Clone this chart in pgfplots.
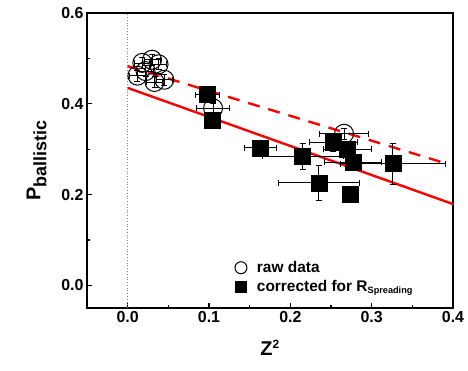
\documentclass[border=0pt]{standalone}
\usepackage{pgfplots}
\pgfplotsset{compat=1.18}
\usepackage{fontspec}
\setmainfont{Liberation Sans}
\begin{document}
\begin{tikzpicture}[x=1bp,y=1bp]
\begin{axis}[
  at={(0,0)}, anchor=south west,
  scale only axis, width=366bp, height=295bp,
  xmin=-0.05, xmax=0.4, ymin=-0.05, ymax=0.6,
  xtick={0,0.1,0.2,0.3,0.4}, ytick={0,0.2,0.4,0.6},
  xticklabels={0.0,0.1,0.2,0.3,0.4},
  yticklabels={0.0,0.2,0.4,0.6},
  minor xtick={-0.05,0.05,0.15,0.25,0.35},
  minor ytick={-0.1,0.1,0.3,0.5},
  tick label style={font=\fontsize{16}{18}\selectfont\bfseries},
  tick align=inside, xtick pos=bottom, ytick pos=left,
  major tick length=5bp, minor tick length=3bp,
  every tick/.style={black, line width=1.2pt},
  axis line style={line width=1.8pt},
  xlabel={\fontsize{20}{22}\selectfont\bfseries Z\textsuperscript{\fontsize{12}{13}\selectfont 2}},
  ylabel={\fontsize{20}{22}\selectfont\bfseries P\textsubscript{\fontsize{18}{19}\selectfont ballistic}},
  xlabel style={yshift=-10bp},
  ylabel style={yshift=8bp},
  legend style={draw=none, fill=none, at={(axis cs:0.128,0.062)}, anchor=north west,
    font=\fontsize{15.5}{18}\selectfont\bfseries, row sep=2bp, column sep=8bp},
  legend cell align=left,
  clip=true,
]
% reference line at Z^2 = 0
\addplot[gray, dotted, line width=0.8pt, forget plot] coordinates {(0,-0.05) (0,0.6)};

% linear fits
\addplot[red, line width=2.4pt, forget plot] coordinates {(0,0.435) (0.4,0.179)};
\addplot[red, line width=2.4pt, dash pattern=on 12bp off 9bp, forget plot] coordinates {(0,0.483) (0.385,0.272)};

% raw data
\addplot[only marks, mark=o, mark size=9.5bp, mark options={fill=white, line width=1pt},
  legend image post style={mark size=6bp},
  error bars/.cd, x dir=both, x explicit, y dir=both, y explicit,
  error bar style={line width=0.7pt}, error mark options={rotate=90, mark size=3bp, line width=0.7pt}]
  coordinates {
    (0.012,0.462) +- (0.010,0.012)
    (0.022,0.472) +- (0.010,0.012)
    (0.018,0.490) +- (0.010,0.012)
    (0.030,0.497) +- (0.010,0.012)
    (0.038,0.487) +- (0.010,0.012)
    (0.033,0.448) +- (0.010,0.012)
    (0.045,0.453) +- (0.010,0.012)
    (0.105,0.390) +- (0.020,0.010)
    (0.266,0.334) +- (0.030,0.012)
  };
\addlegendentry{raw data}

% corrected data
\addplot[only marks, mark=square*, mark size=8bp, mark options={black},
  legend image post style={mark size=5.5bp},
  error bars/.cd, x dir=both, x explicit, y dir=both, y explicit,
  error bar style={line width=0.7pt}, error mark options={rotate=90, mark size=3bp, line width=0.7pt}]
  coordinates {
    (0.098,0.420) +- (0.015,0.010)
    (0.104,0.363) +- (0.010,0.010)
    (0.163,0.303) +- (0.020,0.015)
    (0.215,0.284) +- (0.050,0.028)
    (0.235,0.226) +- (0.050,0.038)
    (0.273,0.200) +- (0.000,0.000)
    (0.253,0.315) +- (0.030,0.020)
    (0.270,0.300) +- (0.030,0.015)
    (0.277,0.272) +- (0.035,0.015)
    (0.326,0.268) +- (0.065,0.045)
  };
\addlegendentry{corrected for R\textsubscript{\fontsize{9.2}{10}\selectfont Spreading}}
\end{axis}
\useasboundingbox (-87bp,-63bp) rectangle (381bp,308bp);
\end{tikzpicture}
\end{document}
